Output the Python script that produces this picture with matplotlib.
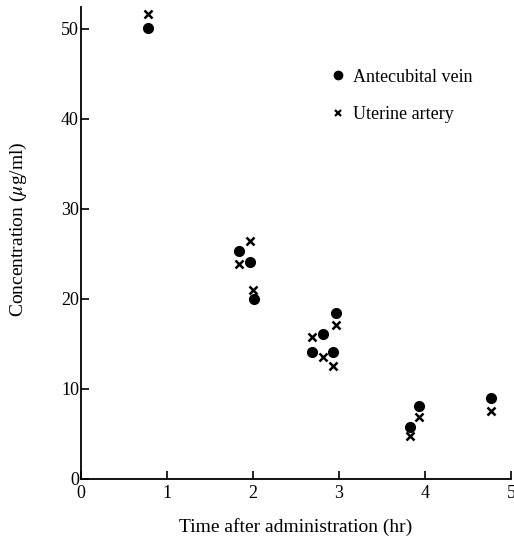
import matplotlib as mpl
mpl.use("Agg")
import matplotlib.pyplot as plt
from matplotlib.lines import Line2D

# Antecubital vein (filled circles)
vein_time = [0.78, 1.84, 1.96, 2.01, 2.69, 2.81, 2.93, 2.96, 3.83, 3.93, 4.77]
vein_conc = [50.1, 25.3, 24.1, 20.0, 14.1, 16.1, 14.1, 18.4, 5.8, 8.1, 9.0]

# Uterine artery (crosses)
artery_time = [0.78, 1.84, 1.96, 2.00, 2.69, 2.81, 2.93, 2.96, 3.83, 3.93, 4.77]
artery_conc = [51.6, 23.9, 26.4, 21.0, 15.8, 13.5, 12.6, 17.1, 4.8, 6.9, 7.6]

xticks = [0, 1, 2, 3, 4, 5]
yticks = [0, 10, 20, 30, 40, 50]

plt.rcParams["font.family"] = ["Liberation Serif", "DejaVu Serif"]
plt.rcParams["mathtext.fontset"] = "stix"

fig = plt.figure(figsize=(5.14, 5.44), dpi=100)
ax = fig.add_axes([0.1576, 0.1195, 0.8366, 0.8676])

ax.plot(vein_time, vein_conc, "o", color="black", ms=7, ls="none")
ax.plot(artery_time, artery_conc, "x", color="black", ms=6, mew=1.8, ls="none")

ax.set_xlim(0, 5)
ax.set_ylim(0, 52.4)
ax.set_xticks(xticks)
ax.set_yticks(yticks)
ax.tick_params(direction="in", length=6, width=1.2, labelsize=13)
ax.tick_params(axis="y", pad=1.5)
ax.tick_params(axis="x", pad=4)
ax.spines["top"].set_visible(False)
ax.spines["right"].set_visible(False)
ax.spines["left"].set_linewidth(1.3)
ax.spines["bottom"].set_linewidth(1.3)

ax.set_xlabel("Time after administration (hr)", fontsize=14, labelpad=12)
ax.set_ylabel(r"Concentration ($\mu$g/ml)", fontsize=14)
ax.yaxis.set_label_coords(-0.12, 0.53)

handles = [
    Line2D([], [], marker="o", color="black", ls="none", ms=6),
    Line2D([], [], marker="x", color="black", ls="none", ms=5, mew=1.6),
]
ax.legend(handles, ["Antecubital vein", "Uterine artery"], loc="upper left",
          bbox_to_anchor=(0.545, 0.904), frameon=False, fontsize=13,
          handlelength=0.7, handletextpad=0.5, labelspacing=1.15)

fig.savefig("out.png", dpi=100)
